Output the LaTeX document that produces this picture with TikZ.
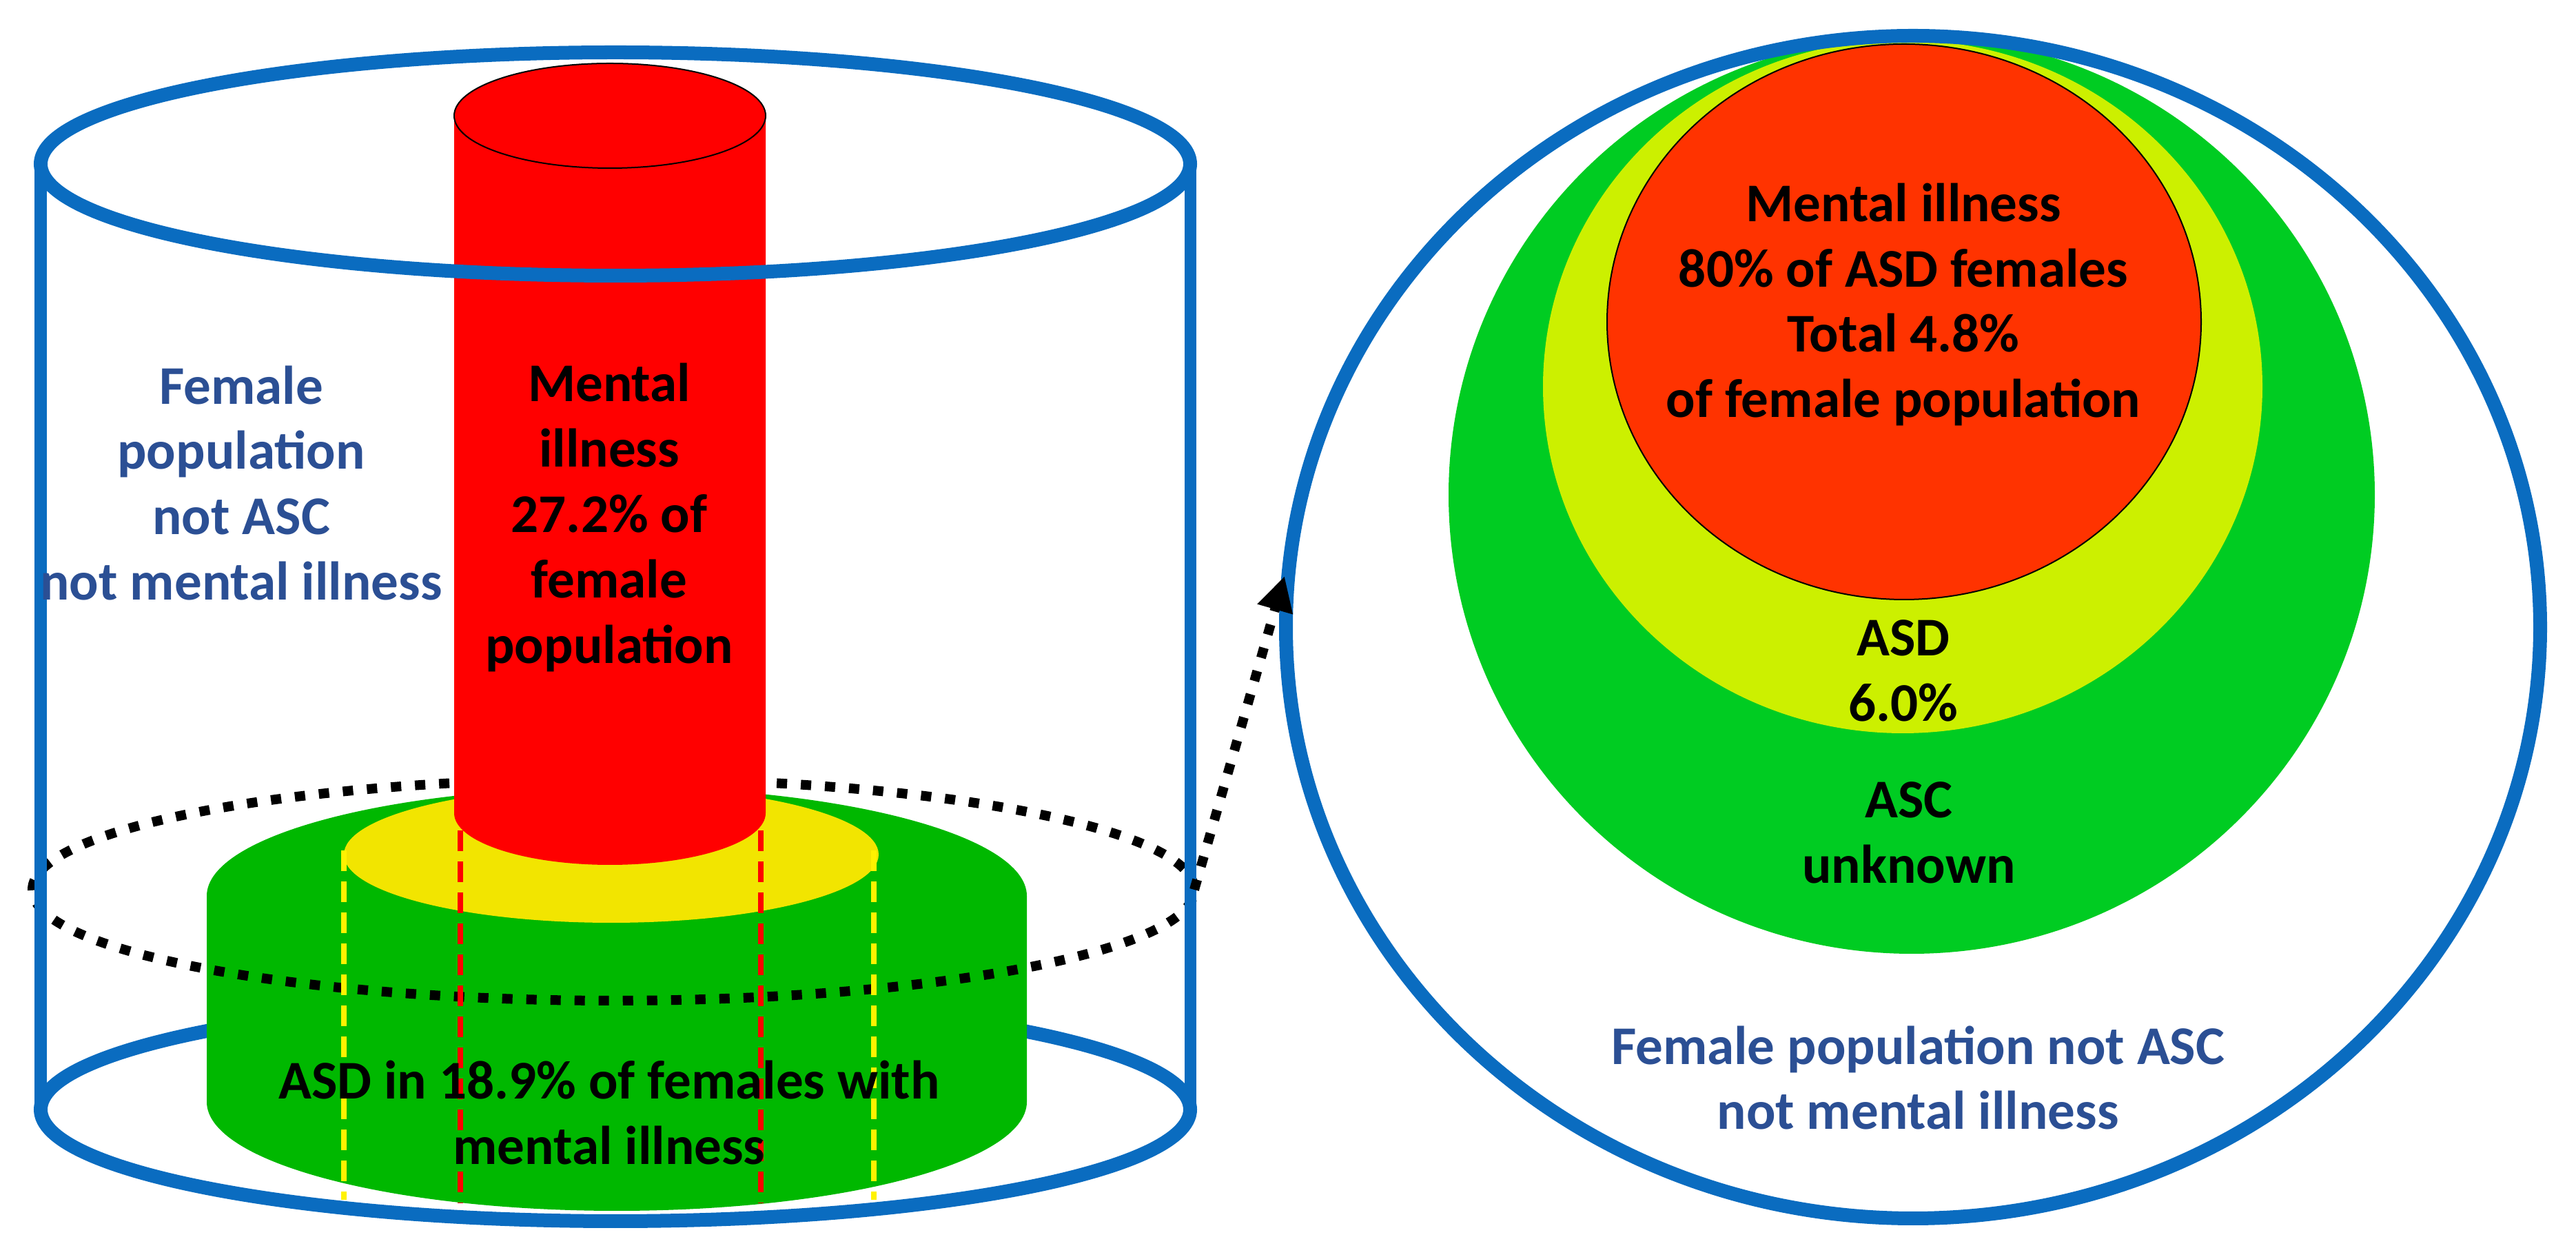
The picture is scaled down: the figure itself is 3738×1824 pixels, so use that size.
\documentclass[tikz,border=0pt]{standalone}
\usepackage{fontspec}
\setmainfont{Carlito}
\usepackage{tikz}
\usetikzlibrary{arrows.meta}

\definecolor{rimblue}{HTML}{0A6CC0}
\definecolor{txtblue}{HTML}{2B4F94}
\definecolor{discgreen}{HTML}{00B800}
\definecolor{discyellow}{HTML}{F2E500}
\definecolor{ballgreen}{HTML}{00CC22}
\definecolor{ballyellow}{HTML}{CCF000}
\definecolor{ballred}{HTML}{FF3300}

\begin{document}
\begin{tikzpicture}[x=0.01cm, y=0.01cm,
  lbl/.style={align=center, font=\fontsize{22.5}{27}\selectfont\bfseries},
  rim/.style={draw=rimblue, line width=0.2cm},
  dotring/.style={draw=black, line width=0.14cm, dash pattern=on 0.15cm off 0.2cm},
  guide/.style={line width=0.08cm, dash pattern=on 0.3cm off 0.15cm}]

  \useasboundingbox (0,0) rectangle (3738,1824);

  % Outer cylinder, bottom rim
  \draw[rim] (893,214) ellipse [x radius=834, y radius=162];

  % Green disc with yellow top
  \fill[discgreen] (300,524) -- (300,225) arc [start angle=180, end angle=360, x radius=595, y radius=158]
    -- (1490,524) arc [start angle=0, end angle=180, x radius=595, y radius=158] -- cycle;
  \fill[discyellow] (887,584) ellipse [x radius=388, y radius=99];

  % Dotted cut ring
  \draw[dotring] (890,533) ellipse [x radius=843, y radius=161];
  \coordinate (ringE) at (1733,533);

  % Red column
  \fill[red] (659,1656) -- (659,644) arc [start angle=180, end angle=360, x radius=226, y radius=75]
    -- (1111,1656) arc [start angle=0, end angle=180, x radius=226, y radius=76] -- cycle;
  \draw[line width=0.02cm, fill=red] (885,1656) ellipse [x radius=226, y radius=76];

  % Outer cylinder, top rim and sides
  \draw[rim] (893,1586) ellipse [x radius=834, y radius=162];
  \draw[draw=rimblue, line width=0.17cm] (59,1586) -- (59,214);
  \draw[draw=rimblue, line width=0.17cm] (1727,1586) -- (1727,214);

  % Dashed guides
  \draw[guide, yellow] (499,590) -- (499,83);
  \draw[guide, yellow] (1268,590) -- (1268,83);
  \draw[guide, red] (668,664) -- (668,78);
  \draw[guide, red] (1104,664) -- (1104,78);

  % Labels, left
  \node[lbl, txtblue] (popL) at (350,1123) {Female\\population\\not ASC\\not mental illness};
  \node[lbl] (illL) at (884,1073) {Mental\\illness\\27.2\% of\\female\\population};
  \node[lbl] (asdL) at (884,209) {ASD in 18.9\% of females with\\mental illness};

  % Nested circles, right
  \fill[ballgreen] (2774,1106) ellipse [x radius=672, y radius=666];
  \fill[ballyellow] (2761,1263) ellipse [x radius=522, y radius=503];
  \draw[line width=0.02cm, fill=ballred] (2763,1357) ellipse [x radius=431, y radius=403];
  \draw[rim] (2776,914) ellipse [x radius=910, y radius=858];
  \coordinate (circW) at (1864,988);

  % Labels, right
  \node[lbl] (illR) at (2762,1382) {Mental illness\\80\% of ASD females\\Total 4.8\%\\of female population};
  \node[lbl] (asdR) at (2762,851) {ASD\\6.0\%};
  \node[lbl] (ascR) at (2770,616) {ASC\\unknown};
  \node[lbl, txtblue] (popR) at (2783,260) {Female population not ASC\\not mental illness};

  % Zoom arrow
  \draw[dotring, -{Triangle[length=0.5cm, width=0.5cm]}] (ringE) -- (circW);

\end{tikzpicture}
\end{document}
